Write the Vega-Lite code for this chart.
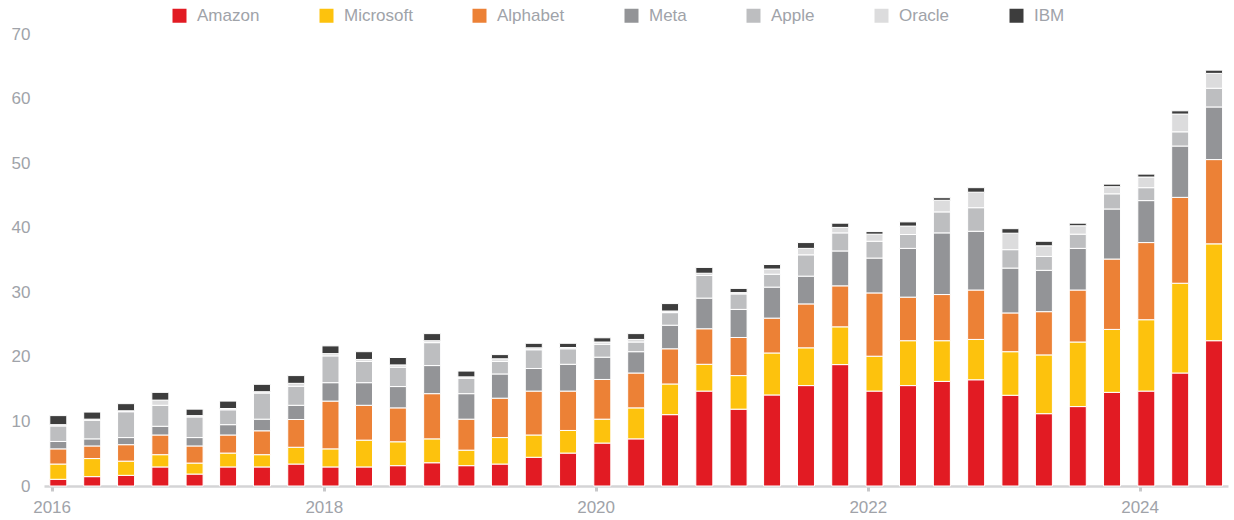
{
  "$schema": "https://vega.github.io/schema/vega-lite/v6.json",
  "width": 1184,
  "height": 452,
  "autosize": {"type": "none"},
  "padding": {"left": 44, "right": 6, "top": 34, "bottom": 34},
  "background": "white",
  "config": {
    "view": {"stroke": null},
    "font": "Liberation Sans"
  },
  "datasets": {
    "ranks": [
      {"company": "Amazon", "rank": 1},
      {"company": "Microsoft", "rank": 2},
      {"company": "Alphabet", "rank": 3},
      {"company": "Meta", "rank": 4},
      {"company": "Apple", "rank": 5},
      {"company": "Oracle", "rank": 6},
      {"company": "IBM", "rank": 7}
    ]
  },
  "data": {
    "values": [
      {"date": "2016-01-19", "Amazon": 1.04, "Microsoft": 2.36, "Alphabet": 2.35, "Meta": 1.15, "Apple": 2.4, "Oracle": 0.2, "IBM": 1.4},
      {"date": "2016-04-19", "Amazon": 1.45, "Microsoft": 2.8, "Alphabet": 1.95, "Meta": 1.1, "Apple": 2.9, "Oracle": 0.15, "IBM": 1.1},
      {"date": "2016-07-19", "Amazon": 1.65, "Microsoft": 2.2, "Alphabet": 2.55, "Meta": 1.1, "Apple": 4.0, "Oracle": 0.15, "IBM": 1.1},
      {"date": "2016-10-19", "Amazon": 2.95, "Microsoft": 1.9, "Alphabet": 3.05, "Meta": 1.35, "Apple": 3.25, "Oracle": 0.8, "IBM": 1.2},
      {"date": "2017-01-19", "Amazon": 1.85, "Microsoft": 1.7, "Alphabet": 2.65, "Meta": 1.3, "Apple": 3.2, "Oracle": 0.2, "IBM": 1.0},
      {"date": "2017-04-19", "Amazon": 2.95, "Microsoft": 2.15, "Alphabet": 2.8, "Meta": 1.6, "Apple": 2.3, "Oracle": 0.2, "IBM": 1.15},
      {"date": "2017-07-19", "Amazon": 2.95, "Microsoft": 1.9, "Alphabet": 3.7, "Meta": 1.8, "Apple": 4.05, "Oracle": 0.2, "IBM": 1.15},
      {"date": "2017-10-19", "Amazon": 3.4, "Microsoft": 2.6, "Alphabet": 4.3, "Meta": 2.2, "Apple": 2.95, "Oracle": 0.45, "IBM": 1.2},
      {"date": "2018-01-19", "Amazon": 2.95, "Microsoft": 2.8, "Alphabet": 7.4, "Meta": 2.85, "Apple": 4.15, "Oracle": 0.35, "IBM": 1.2},
      {"date": "2018-04-19", "Amazon": 2.95, "Microsoft": 4.15, "Alphabet": 5.4, "Meta": 3.5, "Apple": 3.3, "Oracle": 0.3, "IBM": 1.2},
      {"date": "2018-07-19", "Amazon": 3.15, "Microsoft": 3.7, "Alphabet": 5.25, "Meta": 3.3, "Apple": 3.0, "Oracle": 0.35, "IBM": 1.15},
      {"date": "2018-10-19", "Amazon": 3.6, "Microsoft": 3.7, "Alphabet": 7.0, "Meta": 4.35, "Apple": 3.55, "Oracle": 0.3, "IBM": 1.1},
      {"date": "2019-01-19", "Amazon": 3.15, "Microsoft": 2.4, "Alphabet": 4.8, "Meta": 3.95, "Apple": 2.4, "Oracle": 0.2, "IBM": 0.9},
      {"date": "2019-04-19", "Amazon": 3.4, "Microsoft": 4.1, "Alphabet": 6.1, "Meta": 3.75, "Apple": 1.95, "Oracle": 0.4, "IBM": 0.65},
      {"date": "2019-07-19", "Amazon": 4.45, "Microsoft": 3.45, "Alphabet": 6.8, "Meta": 3.5, "Apple": 2.9, "Oracle": 0.3, "IBM": 0.7},
      {"date": "2019-10-19", "Amazon": 5.1, "Microsoft": 3.5, "Alphabet": 6.1, "Meta": 4.15, "Apple": 2.4, "Oracle": 0.2, "IBM": 0.65},
      {"date": "2020-01-19", "Amazon": 6.65, "Microsoft": 3.7, "Alphabet": 6.15, "Meta": 3.45, "Apple": 2.0, "Oracle": 0.35, "IBM": 0.65},
      {"date": "2020-04-19", "Amazon": 7.3, "Microsoft": 4.8, "Alphabet": 5.4, "Meta": 3.3, "Apple": 1.5, "Oracle": 0.4, "IBM": 0.9},
      {"date": "2020-07-19", "Amazon": 11.05, "Microsoft": 4.75, "Alphabet": 5.45, "Meta": 3.65, "Apple": 1.95, "Oracle": 0.25, "IBM": 1.15},
      {"date": "2020-10-19", "Amazon": 14.7, "Microsoft": 4.15, "Alphabet": 5.5, "Meta": 4.75, "Apple": 3.5, "Oracle": 0.35, "IBM": 0.9},
      {"date": "2021-01-19", "Amazon": 11.9, "Microsoft": 5.2, "Alphabet": 5.9, "Meta": 4.35, "Apple": 2.4, "Oracle": 0.2, "IBM": 0.65},
      {"date": "2021-04-19", "Amazon": 14.1, "Microsoft": 6.5, "Alphabet": 5.4, "Meta": 4.8, "Apple": 2.0, "Oracle": 0.8, "IBM": 0.7},
      {"date": "2021-07-19", "Amazon": 15.55, "Microsoft": 5.85, "Alphabet": 6.8, "Meta": 4.3, "Apple": 3.3, "Oracle": 1.0, "IBM": 0.9},
      {"date": "2021-10-19", "Amazon": 18.8, "Microsoft": 5.85, "Alphabet": 6.35, "Meta": 5.4, "Apple": 2.8, "Oracle": 0.85, "IBM": 0.65},
      {"date": "2022-01-19", "Amazon": 14.7, "Microsoft": 5.4, "Alphabet": 9.8, "Meta": 5.4, "Apple": 2.6, "Oracle": 1.1, "IBM": 0.4},
      {"date": "2022-04-19", "Amazon": 15.55, "Microsoft": 6.95, "Alphabet": 6.75, "Meta": 7.55, "Apple": 2.15, "Oracle": 1.3, "IBM": 0.65},
      {"date": "2022-07-19", "Amazon": 16.2, "Microsoft": 6.3, "Alphabet": 7.15, "Meta": 9.55, "Apple": 3.25, "Oracle": 1.8, "IBM": 0.4},
      {"date": "2022-10-19", "Amazon": 16.45, "Microsoft": 6.25, "Alphabet": 7.65, "Meta": 9.1, "Apple": 3.65, "Oracle": 2.4, "IBM": 0.7},
      {"date": "2023-01-19", "Amazon": 14.05, "Microsoft": 6.75, "Alphabet": 6.0, "Meta": 6.95, "Apple": 2.85, "Oracle": 2.55, "IBM": 0.7},
      {"date": "2023-04-19", "Amazon": 11.2, "Microsoft": 9.1, "Alphabet": 6.7, "Meta": 6.4, "Apple": 2.15, "Oracle": 1.65, "IBM": 0.7},
      {"date": "2023-07-19", "Amazon": 12.3, "Microsoft": 10.0, "Alphabet": 8.05, "Meta": 6.45, "Apple": 2.2, "Oracle": 1.3, "IBM": 0.4},
      {"date": "2023-10-19", "Amazon": 14.5, "Microsoft": 9.75, "Alphabet": 10.9, "Meta": 7.75, "Apple": 2.35, "Oracle": 1.1, "IBM": 0.4},
      {"date": "2024-01-19", "Amazon": 14.7, "Microsoft": 11.05, "Alphabet": 11.95, "Meta": 6.5, "Apple": 2.0, "Oracle": 1.65, "IBM": 0.45},
      {"date": "2024-04-19", "Amazon": 17.5, "Microsoft": 13.9, "Alphabet": 13.3, "Meta": 7.95, "Apple": 2.2, "Oracle": 2.75, "IBM": 0.5},
      {"date": "2024-07-19", "Amazon": 22.5, "Microsoft": 15.0, "Alphabet": 13.05, "Meta": 8.15, "Apple": 2.9, "Oracle": 2.3, "IBM": 0.5}
    ]
  },
  "transform": [
    {"fold": ["Amazon", "Microsoft", "Alphabet", "Meta", "Apple", "Oracle", "IBM"], "as": ["company", "value"]},
    {"lookup": "company", "from": {"data": {"name": "ranks"}, "key": "company", "fields": ["rank"]}}
  ],
  "mark": {"type": "bar", "width": 17, "stroke": "white", "strokeWidth": 1},
  "encoding": {
    "x": {
      "field": "date",
      "type": "temporal",
      "scale": {"domain": [{"year": 2015, "month": 12, "date": 25}, {"year": 2024, "month": 8, "date": 12}]},
      "axis": {
        "title": null,
        "values": [{"year": 2016, "month": 1, "date": 1}, {"year": 2018, "month": 1, "date": 1}, {"year": 2020, "month": 1, "date": 1}, {"year": 2022, "month": 1, "date": 1}, {"year": 2024, "month": 1, "date": 1}],
        "format": "%Y",
        "grid": false,
        "domainColor": "#d4d4d6",
        "domainWidth": 2.5,
        "tickColor": "#c8c8ca",
        "tickWidth": 3,
        "tickSize": 5,
        "labelFontSize": 17,
        "labelColor": "#a0a3a9",
        "labelPadding": 8,
        "labelDx": 6,
        "labelFlush": false
      }
    },
    "y": {
      "field": "value",
      "type": "quantitative",
      "stack": "zero",
      "scale": {"domain": [0, 70], "nice": false},
      "axis": {
        "title": null,
        "values": [0, 10, 20, 30, 40, 50, 60, 70],
        "grid": false,
        "domain": false,
        "ticks": false,
        "labelFontSize": 17,
        "labelColor": "#a0a3a9",
        "labelPadding": 14
      }
    },
    "order": {"field": "rank", "type": "quantitative", "sort": "ascending"},
    "color": {
      "field": "company",
      "type": "nominal",
      "sort": ["Amazon", "Microsoft", "Alphabet", "Meta", "Apple", "Oracle", "IBM"],
      "scale": {
        "domain": ["Amazon", "Microsoft", "Alphabet", "Meta", "Apple", "Oracle", "IBM"],
        "range": ["#e21b23", "#fdc20d", "#ec8136", "#939497", "#bdbec0", "#dcdcdd", "#3d3d3d"]
      },
      "legend": {
        "title": null,
        "orient": "none",
        "direction": "horizontal",
        "legendX": 127,
        "legendY": -27,
        "symbolType": "square",
        "symbolSize": 196,
        "symbolStrokeWidth": 0,
        "labelFontSize": 17,
        "labelColor": "#a0a3a9",
        "labelOffset": 9,
        "columnPadding": 58
      }
    }
  }
}
